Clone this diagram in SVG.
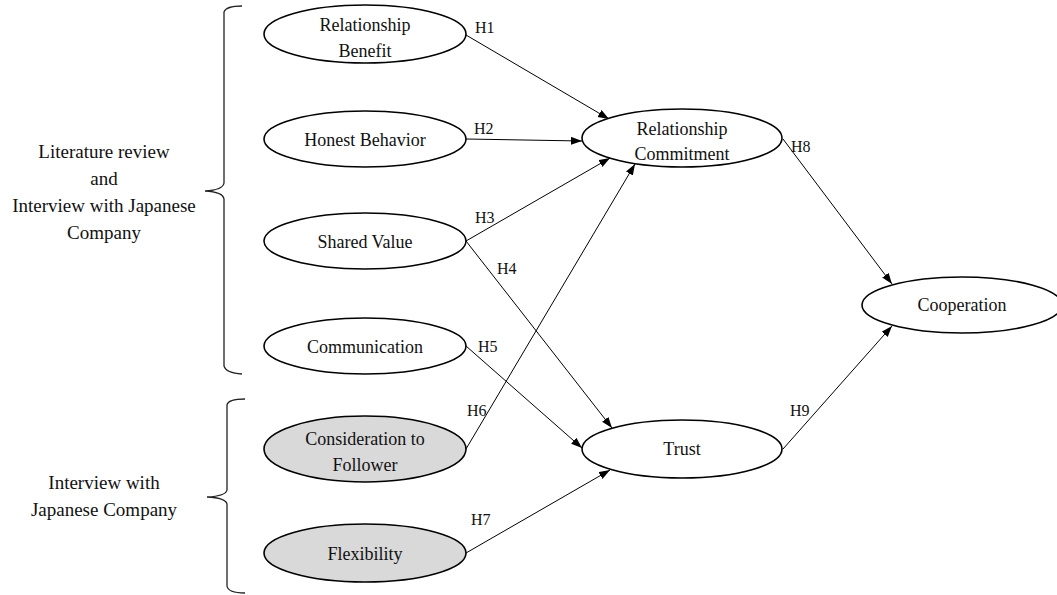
<svg xmlns="http://www.w3.org/2000/svg" width="1057" height="595" viewBox="0 0 1057 595">
<style>
.n{fill:#fff;stroke:#000;stroke-width:1.6}
.g{fill:#d9d9d9;stroke:#000;stroke-width:1.6}
text{font-family:"Liberation Serif","Times New Roman",serif;fill:#111;text-anchor:middle}
.t{font-size:18px}
.s{font-size:19px}
.h{font-size:16px;text-anchor:start}
.c{stroke:#000;stroke-width:1;fill:none;marker-end:url(#ah)}
.b{stroke:#222;stroke-width:1.3;fill:none}
</style>
<defs>
<marker id="ah" markerUnits="userSpaceOnUse" markerWidth="12" markerHeight="10" refX="11" refY="4" orient="auto">
<path d="M0,0 L11,4 L0,8 Z" fill="#000"/>
</marker>
</defs>
<rect width="1057" height="595" fill="#fff"/>
<g id="brace-top">
<path class="b" d="M242,6 Q226,6 224,12 L224,183 Q223,190 205,191 Q223,192 224,199 L224,366 Q226,373 242,374"/>
<text class="s" x="104" y="158">Literature review</text>
<text class="s" x="104" y="185">and</text>
<text class="s" x="104" y="212">Interview with Japanese</text>
<text class="s" x="104" y="239">Company</text>
</g>
<g id="brace-bottom">
<path class="b" d="M245,399 Q228,399 227,405 L227,490 Q226,496 207,497 Q226,498 227,504 L227,586 Q228,593 245,593"/>
<text class="s" x="104" y="489">Interview with</text>
<text class="s" x="104" y="516">Japanese Company</text>
</g>
<g id="connectors">
<line class="c" x1="466" y1="35" x2="609" y2="119"/>
<line class="c" x1="466" y1="139" x2="582" y2="141"/>
<line class="c" x1="466" y1="241" x2="610" y2="158"/>
<line class="c" x1="466" y1="241" x2="612" y2="428"/>
<line class="c" x1="466" y1="346" x2="582" y2="448"/>
<line class="c" x1="466" y1="449" x2="635" y2="164"/>
<line class="c" x1="466" y1="553" x2="610" y2="470"/>
<line class="c" x1="783" y1="139" x2="892" y2="284"/>
<line class="c" x1="783" y1="449" x2="892" y2="326"/>
<text class="h" x="475" y="33">H1</text>
<text class="h" x="474" y="134">H2</text>
<text class="h" x="475" y="223">H3</text>
<text class="h" x="497" y="274">H4</text>
<text class="h" x="478" y="352">H5</text>
<text class="h" x="467" y="416">H6</text>
<text class="h" x="471" y="525">H7</text>
<text class="h" x="791" y="152">H8</text>
<text class="h" x="790" y="416">H9</text>
</g>
<g id="relationship-benefit">
<ellipse class="n" cx="365" cy="34" rx="101" ry="29"/>
<text class="t" x="365" y="31">Relationship</text>
<text class="t" x="365" y="57">Benefit</text>
</g>
<g id="honest-behavior">
<ellipse class="n" cx="365" cy="139" rx="101" ry="28"/>
<text class="t" x="365" y="146">Honest Behavior</text>
</g>
<g id="shared-value">
<ellipse class="n" cx="365" cy="241" rx="101" ry="28"/>
<text class="t" x="365" y="248">Shared Value</text>
</g>
<g id="communication">
<ellipse class="n" cx="365" cy="346" rx="101" ry="28"/>
<text class="t" x="365" y="353">Communication</text>
</g>
<g id="consideration">
<ellipse class="g" cx="365" cy="449" rx="101" ry="33"/>
<text class="t" x="365" y="445">Consideration to</text>
<text class="t" x="365" y="471">Follower</text>
</g>
<g id="flexibility">
<ellipse class="g" cx="365" cy="553" rx="101" ry="29"/>
<text class="t" x="365" y="560">Flexibility</text>
</g>
<g id="relationship-commitment">
<ellipse class="n" cx="682" cy="138" rx="100" ry="29"/>
<text class="t" x="682" y="135">Relationship</text>
<text class="t" x="682" y="160">Commitment</text>
</g>
<g id="trust">
<ellipse class="n" cx="682" cy="449" rx="100" ry="29"/>
<text class="t" x="682" y="455">Trust</text>
</g>
<g id="cooperation">
<ellipse class="n" cx="962" cy="305" rx="100" ry="28"/>
<text class="t" x="962" y="311">Cooperation</text>
</g>
</svg>
